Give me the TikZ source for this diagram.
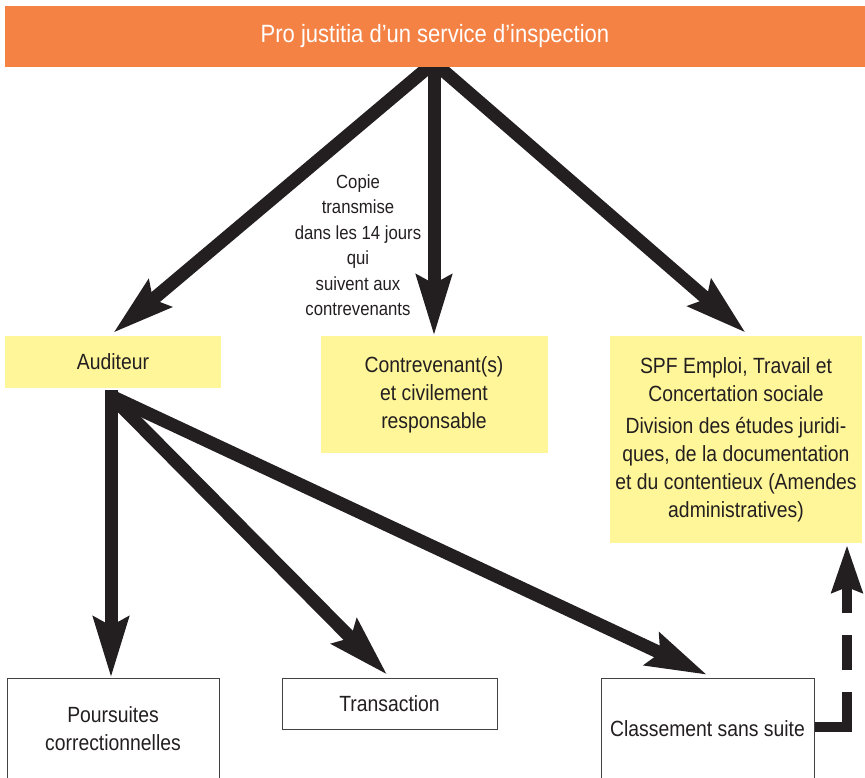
\documentclass[tikz,border=0pt]{standalone}
\usepackage{fontspec}
\setmainfont{Liberation Sans}[FakeStretch=0.88]
\usetikzlibrary{arrows.meta,backgrounds}
\definecolor{orng}{RGB}{244,130,69}
\definecolor{yel}{RGB}{255,246,153}
\definecolor{ink}{RGB}{35,31,32}
\begin{document}
\begin{tikzpicture}[x=1pt,y=-1pt,
  box/.style={inner sep=0pt,outer sep=0pt,align=center,text=ink,font=\fontsize{22}{28}\selectfont},
  ybox/.style={box,fill=yel},
  wbox/.style={box,draw=ink!85,line width=0.8pt,fill=white},
  bigarrow/.style={draw=ink,line width=13pt,-{Stealth[length=60pt,width=34pt,inset=8pt]}},
  dasharrow/.style={draw=ink,line width=10pt,-{Stealth[length=47pt,width=30pt,inset=5pt]},
    dash pattern=on 68pt off 22pt on 35pt off 22pt on 300pt}]
\useasboundingbox (0,0) rectangle (865,777);
\node[box,fill=orng,text=white,minimum width=860pt,minimum height=61pt,
  font=\fontsize{25}{30}\selectfont] (bar) at (435,36) {Pro justitia d’un service d’inspection};
\node[ybox,minimum width=216pt,minimum height=52pt] (aud) at (113,362) {Auditeur};
\node[ybox,minimum width=227pt,minimum height=117pt] (contr) at (434,394.5)
  {Contrevenant(s)\\et civilement\\responsable};
\node[ybox,minimum width=252pt,minimum height=207pt] (spf) at (736,439.5)
  {SPF Emploi, Travail et\\Concertation sociale\\[4pt]Division des études juridi-\\ques, de la documentation\\et du contentieux (Amendes\\administratives)};
\node[wbox,minimum width=212pt,minimum height=102pt] (pours) at (113,729)
  {Poursuites\\correctionnelles};
\node[wbox,minimum width=215pt,minimum height=51pt] (trans) at (389.5,703.5) {Transaction};
\node[wbox,minimum width=213pt,minimum height=102pt] (class) at (707.5,729) {Classement sans suite};
\node[box,font=\fontsize{19}{25.5}\selectfont] (copie) at (358,245)
  {Copie\\transmise\\dans les 14 jours\\qui\\suivent aux\\contrevenants};
\coordinate (apex) at ([xshift=-1pt,yshift=4pt]bar.south);
\coordinate (audout) at ([xshift=-2pt,yshift=-2pt]aud.south);
\coordinate (audfan) at ([xshift=-2pt,yshift=-8pt]aud.south);
\begin{scope}[on background layer]
  \draw[bigarrow] (apex) -- ([yshift=3pt]aud.north);
  \draw[bigarrow] (apex) -- (contr.north);
  \draw[bigarrow] (apex) -- ([xshift=10pt,yshift=3pt]spf.north);
  \draw[bigarrow] (audout) -- ([xshift=-2pt]pours.north);
  \draw[bigarrow] (audfan) -- ([xshift=-2pt,yshift=3pt]trans.north);
  \draw[bigarrow] (audfan) -- ([yshift=3pt]class.north);
  \draw[dasharrow] ([yshift=2pt]class.east) -| ([xshift=-15pt,yshift=-2pt]spf.south east);
\end{scope}
\end{tikzpicture}
\end{document}
